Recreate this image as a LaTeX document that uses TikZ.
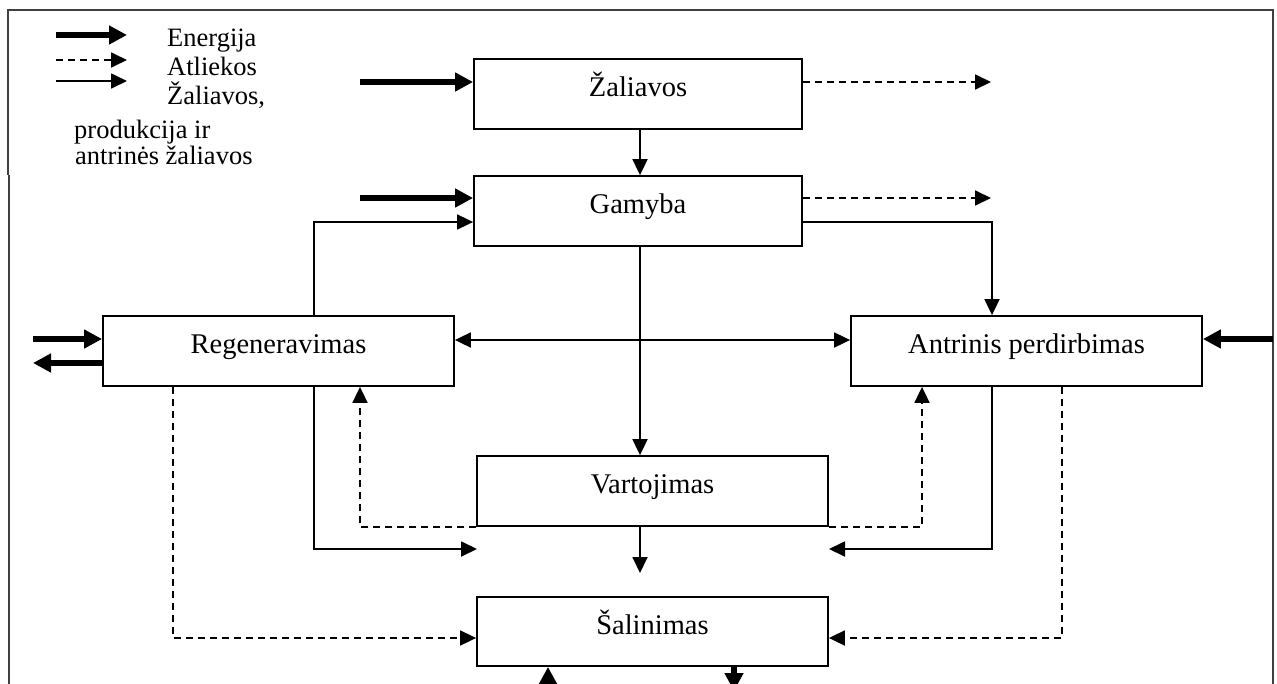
\documentclass[tikz,border=0pt]{standalone}
\usepackage{fontspec}
\setmainfont{Liberation Serif}
\usetikzlibrary{arrows.meta}
\begin{document}
\begin{tikzpicture}[x=1pt,y=-1pt,
  box/.style={draw, line width=1.8pt, inner sep=0pt, text height=13pt, text depth=8pt,
              font=\fontsize{28.5}{34}\selectfont},
  flow/.style={line width=1.8pt, -{Triangle[length=16pt,width=15pt]}},
  waste/.style={flow, dash pattern=on 7pt off 5pt},
  energy/.style={line width=5.5pt, -{Triangle[length=18pt,width=18pt]}},
  lbl/.style={anchor=base west, inner sep=0pt, font=\fontsize{26.5}{30}\selectfont},
  frame/.style={draw=black!75, line width=2.2pt}]
\clip (0,0) rectangle (1277,683);
\fill[white] (0,0) rectangle (1277,683);
% frame
\draw[frame] (8,175) -- (8,10) -- (1273,10) -- (1273,690);
\draw[frame] (9,175) -- (9,690);
% boxes
\node[box, minimum width=328pt, minimum height=70pt] (zal) at (638,94) {Žaliavos};
\node[box, minimum width=328pt, minimum height=70pt] (gam) at (638,211) {Gamyba};
\node[box, minimum width=351pt, minimum height=70pt] (reg) at (278.5,351) {Regeneravimas};
\node[box, minimum width=351pt, minimum height=70pt] (ant) at (1026.5,351) {Antrinis perdirbimas};
\node[box, minimum width=351pt, minimum height=70pt] (var) at (652.5,491) {Vartojimas};
\node[box, minimum width=351pt, minimum height=69pt] (sal) at (652.5,631.5) {Šalinimas};
% helper coordinates
\coordinate (xm) at (640,0);
\coordinate (l1) at (314,0);
\coordinate (l2) at (360,0);
\coordinate (l3) at (173,0);
\coordinate (r1) at (992,0);
\coordinate (r3) at (922,0);
\coordinate (r4) at (1062,0);
\coordinate (b1) at (548,0);
\coordinate (b2) at (734,0);
\coordinate (vend) at (640,573);
\coordinate (a1) at (477,549);
\coordinate (a2) at (829,549);
\coordinate (e1) at (360,82);
\coordinate (e2) at (360,198);
\coordinate (d1) at (991,82);
\coordinate (d2) at (991,198);
\coordinate (e3) at (33,339);
\coordinate (e4) at (33,363);
\coordinate (e5) at (1273,339);
\coordinate (e6) at (548,702);
\coordinate (e7) at (734,691);
% legend
\coordinate (lg1a) at (56,35);  \coordinate (lg1b) at (127,35);
\coordinate (lg2a) at (56,60);  \coordinate (lg2b) at (127,60);
\coordinate (lg3a) at (56,81);  \coordinate (lg3b) at (127,81);
\draw[energy] (lg1a) -- (lg1b);
\draw[waste] (lg2a) -- (lg2b);
\draw[flow] (lg3a) -- (lg3b);
\node[lbl] (t1) at (167,46) {Energija};
\node[lbl] (t2) at (167,75) {Atliekos};
\node[lbl] (t3) at (167,104) {Žaliavos,};
\node[lbl] (t4) at (74,138) {produkcija ir};
\node[lbl] (t5) at (75,164) {antrinės žaliavos};
% main flows
\draw[flow] (zal.south -| xm) -- (gam.north -| xm);
\draw[flow] (gam.south -| xm) -- (var.north -| xm);
\draw[flow] (var.south -| xm) -- (vend);
\draw[line width=1.8pt, {Triangle[length=16pt,width=15pt]}-{Triangle[length=16pt,width=15pt]}]
  ([yshift=11pt]reg.east) -- ([yshift=11pt]ant.west);
\draw[flow] ([yshift=-11pt]gam.east) -| (ant.north -| r1);
\draw[flow] (reg.north -| l1) |- ([yshift=-11pt]gam.west);
\draw[flow] (reg.south -| l1) |- (a1);
\draw[flow] (ant.south -| r1) |- (a2);
% waste flows
\draw[waste] (var.south west) -| (reg.south -| l2);
\draw[waste] (var.south east) -| (ant.south -| r3);
\draw[waste] (reg.south -| l3) |- ([yshift=-6.5pt]sal.west);
\draw[waste] (ant.south -| r4) |- ([yshift=-6.5pt]sal.east);
\draw[waste] ([yshift=12pt]zal.east) -- (d1);
\draw[waste] ([yshift=13pt]gam.east) -- (d2);
% energy
\draw[energy] (e1) -- ([yshift=12pt]zal.west);
\draw[energy] (e2) -- ([yshift=13pt]gam.west);
\draw[energy] (e3) -- ([yshift=12pt]reg.west);
\draw[energy] ([yshift=-12pt]reg.west) -- (e4);
\draw[energy] (e5) -- ([yshift=12pt]ant.east);
\draw[energy] (e6) -- (sal.south -| b1);
\draw[energy] (sal.south -| b2) -- (e7);
\end{tikzpicture}
\end{document}
